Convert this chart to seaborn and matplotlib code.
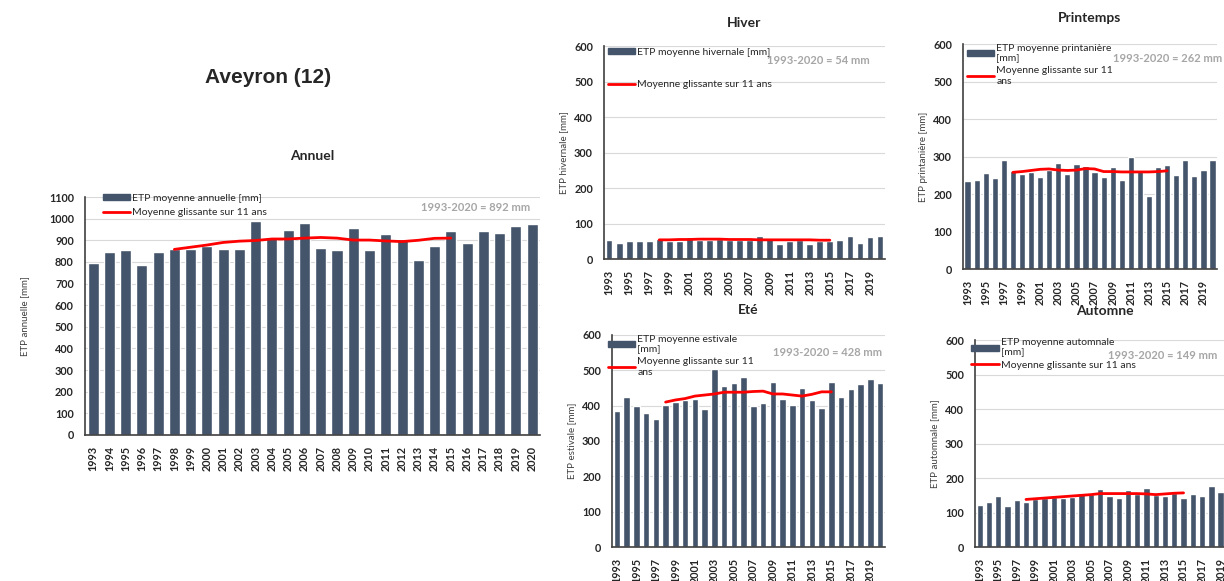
import matplotlib
matplotlib.use("Agg")
import matplotlib.pyplot as plt
from matplotlib.patches import Patch
from matplotlib.lines import Line2D
import seaborn as sns

# ---- data ----
years = list(range(1993, 2021))
ma_years = list(range(1998, 2016))

annuel = [795, 844, 853, 787, 847, 860, 860, 875, 862, 862,
          989, 915, 949, 981, 864, 856, 957, 853, 929, 906,
          810, 872, 944, 887, 941, 934, 967, 974]
annuel_ma = [858, 868, 878, 890, 896, 899, 906, 906, 910, 913,
             910, 901, 901, 897, 894, 900, 909, 910]

hiver = [54, 45, 52, 51, 51, 56, 51, 51, 63, 54,
         54, 56, 54, 53, 54, 65, 57, 43, 52, 53,
         42, 51, 51, 54, 65, 44, 63, 66]
hiver_ma = [54, 54, 55, 55, 56, 56, 56, 55, 55, 55,
            54, 54, 54, 54, 54, 54, 53, 53]

printemps = [235, 238, 257, 244, 292, 262, 254, 258, 245, 265,
             284, 253, 280, 275, 258, 246, 272, 238, 300, 262,
             196, 272, 278, 251, 290, 247, 265, 292]
printemps_ma = [258, 260, 263, 266, 267, 264, 263, 264, 268, 267,
                260, 260, 259, 259, 259, 259, 260, 262]

ete = [385, 425, 399, 378, 362, 402, 410, 416, 418, 390,
       503, 455, 463, 480, 399, 408, 468, 420, 402, 449,
       416, 394, 468, 425, 446, 460, 474, 465]
ete_ma = [410, 416, 420, 427, 430, 433, 438, 438, 438, 440,
          441, 433, 433, 430, 427, 432, 439, 439]

automne = [123, 131, 148, 120, 137, 131, 138, 142, 145, 142,
           145, 158, 153, 169, 149, 143, 165, 155, 171, 152,
           149, 157, 143, 153, 147, 178, 159, 165]
automne_ma = [138, 140, 142, 144, 146, 148, 150, 152, 155, 155,
              155, 155, 155, 154, 152, 154, 156, 157]

BAR = "#44546A"
RED = "#FF0000"

sns.set_theme(style="whitegrid")
plt.rcParams["font.family"] = ["Lato", "DejaVu Sans"]
plt.rcParams["axes.edgecolor"] = "#404040"

fig = plt.figure(figsize=(12.24, 5.81), dpi=100)


def panel(rect, values, ma, ymax, title, ylabel, lab_bar, lab_ma,
          mean_txt, txt_pos, step, leg_anchor, leg_space, title_y):
    ax = fig.add_axes(rect)
    sns.barplot(x=years, y=values, native_scale=True, color=BAR,
                saturation=1, width=0.68, ax=ax, zorder=2)
    sns.lineplot(x=ma_years, y=ma, color=RED, lw=2, ax=ax, zorder=3)
    ax.set_xlim(1992.5, 2020.5)
    ax.set_ylim(0, ymax)
    ax.set_yticks(range(0, ymax + 1, 100))
    ax.set_xticks(years[::step])
    ax.set_xticklabels([str(y) for y in years[::step]], rotation=90)
    ax.tick_params(axis="both", labelsize=7.8, pad=2, colors="#262626")
    for t in ax.get_xticklabels() + ax.get_yticklabels():
        t.set_fontweight("bold")
    ax.grid(axis="y", color="#d9d9d9", lw=0.8)
    ax.grid(axis="x", visible=False)
    for s in ["top", "right"]:
        ax.spines[s].set_visible(False)
    ax.spines["left"].set_linewidth(1.2)
    ax.spines["bottom"].set_linewidth(1.2)
    ax.set_ylabel(ylabel, fontsize=7, color="#404040")
    ax.set_title(title, fontsize=10, fontweight="bold", y=title_y)
    handles = [Patch(color=BAR), Line2D([], [], color=RED, lw=2)]
    ax.legend(handles, [lab_bar, lab_ma], loc="upper left",
              bbox_to_anchor=leg_anchor, frameon=False, fontsize=7.5,
              handlelength=2.6, handleheight=0.5, handletextpad=0.2,
              labelspacing=leg_space, borderaxespad=0)
    ax.text(txt_pos[0], txt_pos[1], mean_txt, transform=ax.transAxes,
            ha="right", va="center", fontsize=8, fontweight="bold",
            color="#a6a6a6")
    return ax


# Annuel
ax = panel([0.0694, 0.2513, 0.372, 0.4096], annuel, annuel_ma, 1100,
           "Annuel", "ETP annuelle [mm]", "ETP moyenne annuelle [mm]",
           "Moyenne glissante sur 11 ans", "1993-2020 = 892 mm",
           (0.978, 0.955), 1, (0.03, 1.03), 0.5, 1.12)
ax.yaxis.labelpad = 14

# Hiver
panel([0.4935, 0.5542, 0.2296, 0.3666], hiver, hiver_ma, 600,
      "Hiver", "ETP hivernale [mm]", "ETP moyenne hivernale [mm]",
      "Moyenne glissante sur 11 ans", "1993-2020 = 54 mm",
      (0.947, 0.934), 2, (0.0, 1.01), 2.2, 1.05)

# Printemps
panel([0.7868, 0.537, 0.2075, 0.387], printemps, printemps_ma, 600,
      "Printemps", "ETP printanière [mm]", "ETP moyenne printanière\n[mm]",
      "Moyenne glissante sur 11\nans", "1993-2020 = 262 mm",
      (1.02, 0.938), 2, (0.0, 1.02), 0.3, 1.06)

# Eté
panel([0.5, 0.0585, 0.223, 0.365], ete, ete_ma, 600,
      "Eté", "ETP estivale [mm]", "ETP moyenne estivale\n[mm]",
      "Moyenne glissante sur 11\nans", "1993-2020 = 428 mm",
      (0.989, 0.915), 2, (-0.03, 1.02), 0.3, 1.06)

# Automne
panel([0.7966, 0.0585, 0.212, 0.356], automne, automne_ma, 600,
      "Automne", "ETP automnale [mm]", "ETP moyenne automnale\n[mm]",
      "Moyenne glissante sur 11 ans", "1993-2020 = 149 mm",
      (0.935, 0.928), 2, (-0.03, 1.03), 0.3, 1.08)

fig.text(0.219, 0.866, "Aveyron (12)", ha="center", va="center",
         fontsize=15, fontweight="bold", family="Liberation Sans")

fig.savefig("out.png", dpi=100)
